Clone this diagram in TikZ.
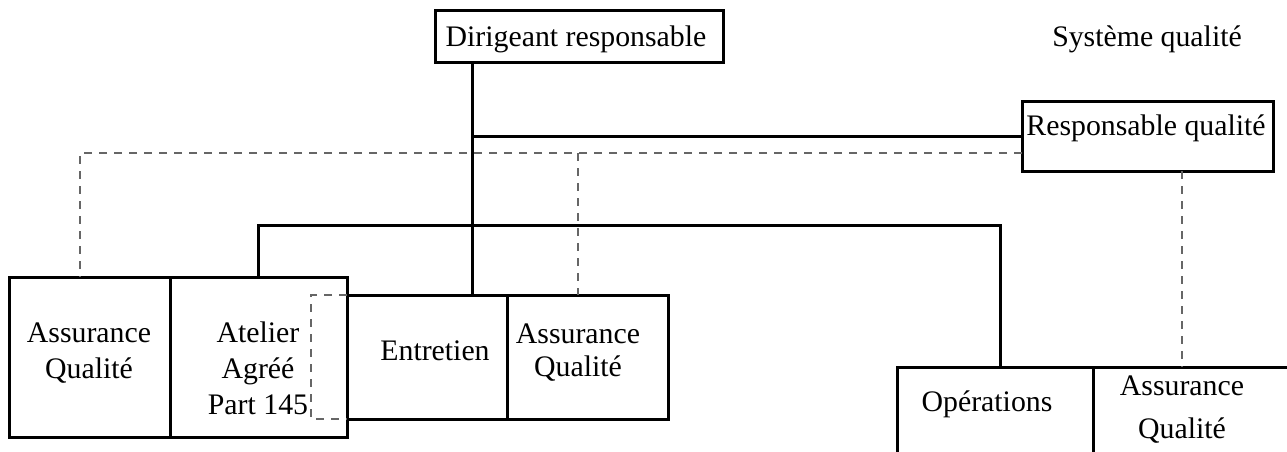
\documentclass[tikz,border=0pt]{standalone}
\usepackage{fontspec}
\setmainfont{Liberation Serif}
\usetikzlibrary{calc}
\begin{document}
\begin{tikzpicture}[x=1pt,y=-1pt,
  box/.style={draw=black, line width=3pt, inner sep=0pt, outer sep=0pt, anchor=north west},
  conn/.style={draw=black, line width=3pt},
  qline/.style={draw=black!60, line width=1.4pt, dash pattern=on 8pt off 7pt},
  lbl/.style={inner sep=0pt, anchor=base, font=\fontsize{29.8}{34}\selectfont}]
\useasboundingbox (0,0) rectangle (1287,452);
\clip (0,0) rectangle (1287,452);
% boxes
\node[box, minimum width=288, minimum height=52] (dir) at (435,11) {};
\node[box, minimum width=251, minimum height=70] (rq) at (1022,101) {};
\node[box, minimum width=161, minimum height=160] (aq1) at (9,277) {};
\node[box, minimum width=177, minimum height=160] (atelier) at (170,277) {};
\node[box, minimum width=160, minimum height=124] (entretien) at (347,295) {};
\node[box, minimum width=161, minimum height=124] (aq2) at (507,295) {};
\node[box, minimum width=196, minimum height=130] (ops) at (897,367) {};
\node[box, minimum width=230, minimum height=130] (aq3) at (1093,367) {};
% texts
\node[lbl] (t0) at (1147,47) {Système qualité};
\node[lbl] (t1) at (576,47) {Dirigeant responsable};
\node[lbl] (t2) at (1146,135) {Responsable qualité};
\node[lbl] (t3a) at (89,342) {Assurance};
\node[lbl] (t3b) at (89,378) {Qualité};
\node[lbl] (t4a) at (258,342) {Atelier};
\node[lbl] (t4b) at (258,378) {Agréé};
\node[lbl] (t4c) at (258,414) {Part 145};
\node[lbl] (t5) at (435,360) {Entretien};
\node[lbl] (t6a) at (578,343) {Assurance};
\node[lbl] (t6b) at (578,376) {Qualité};
\node[lbl] (t7) at (987,411) {Opérations};
\node[lbl] (t8a) at (1182,395) {Assurance};
\node[lbl] (t8b) at (1182,438) {Qualité};
% junction coordinates
\coordinate (spine) at (472,0);
\coordinate (busR) at (1000,225);
\coordinate (qbus) at (0,153);
\coordinate (q1) at (80,0);
\coordinate (q2) at (578,0);
\coordinate (q3) at (1182,0);
% solid connectors
\draw[conn] (spine |- dir.south) -- (spine |- entretien.north);
\draw[conn] (rq.west) -- (rq.west -| spine);
\draw[conn] (atelier.north) |- (busR) -- (busR |- ops.north);
% dashed connectors
\draw[qline] (qbus -| rq.west) -- (qbus -| q1) -- (q1 |- aq1.north);
\draw[qline] (qbus -| q2) -- (q2 |- aq2.north);
\draw[qline] (q3 |- rq.south) -- (q3 |- aq3.north);
\draw[qline] (entretien.north west) -- ++(-36,0) |- (entretien.south west);
\end{tikzpicture}
\end{document}
